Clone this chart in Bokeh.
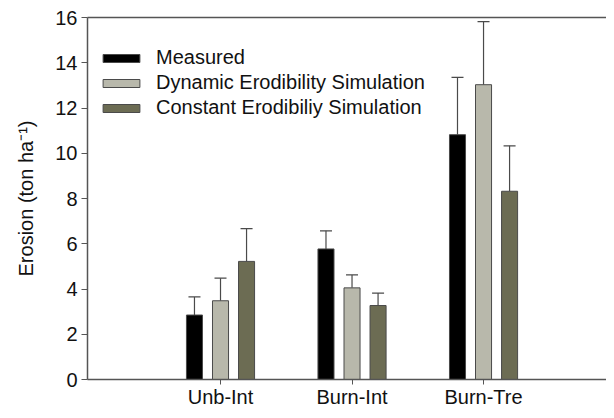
from bokeh.plotting import figure
from bokeh.models import ColumnDataSource, Whisker, TeeHead, LinearAxis, FixedTicker, Legend, LegendItem, Range1d
from bokeh.embed import file_html
from bokeh.resources import INLINE

categories = ["Unb-Int", "Burn-Int", "Burn-Tre"]
series_names = ["Measured", "Dynamic Erodibility Simulation", "Constant Erodibiliy Simulation"]
measured = [2.85, 5.77, 10.82]
measured_err = [0.80, 0.80, 2.53]
dynamic = [3.48, 4.05, 13.03]
dynamic_err = [1.00, 0.57, 2.79]
constant = [5.22, 3.27, 8.32]
constant_err = [1.45, 0.55, 2.01]
y_ticks = [0, 2, 4, 6, 8, 10, 12, 14, 16]

colors = ["#000000", "#b8b8ab", "#6c6c53"]
offsets = [-0.198, 0.0, 0.198]
font = "Liberation Sans"
txt = "#111111"

p = figure(width=606, height=410, output_backend="svg", toolbar_location=None,
           x_range=Range1d(-0.0114, 3.935), y_range=Range1d(0, 16),
           min_border_left=87, min_border_right=0, min_border_top=17, min_border_bottom=25)
p.grid.visible = False
p.outline_line_color = None
p.background_fill_color = "white"

xs = [1, 2, 3]
renderers = []
for vals, errs, c, off in zip([measured, dynamic, constant],
                              [measured_err, dynamic_err, constant_err], colors, offsets):
    src = ColumnDataSource(dict(x=[x + off for x in xs], top=vals,
                                upper=[v + e for v, e in zip(vals, errs)]))
    r = p.vbar(x="x", top="top", bottom=0, width=0.122, source=src,
               fill_color=c, line_color="#4a4a4a", line_width=1)
    renderers.append(r)
    w = Whisker(base="x", lower="top", upper="upper", source=src, dimension="height",
                line_color="#4a4a4a", line_width=1.2,
                upper_head=TeeHead(size=12, line_color="#4a4a4a", line_width=1.2),
                lower_head=None)
    p.add_layout(w)

# axes
p.xaxis.ticker = FixedTicker(ticks=xs)
p.xaxis.major_label_overrides = {x: c for x, c in zip(xs, categories)}
p.yaxis.ticker = FixedTicker(ticks=y_ticks)
for ax in [p.xaxis[0], p.yaxis[0]]:
    ax.axis_line_color = "#555555"
    ax.axis_line_width = 1.5
    ax.major_tick_line_color = "#555555"
    ax.major_tick_line_width = 1
    ax.major_tick_out = 6
    ax.major_tick_in = 0
    ax.minor_tick_line_color = None
    ax.major_label_text_font = font
    ax.major_label_text_font_size = "20px"
    ax.major_label_text_color = txt
p.xaxis.major_tick_out = 5
p.xaxis.major_label_standoff = 1
p.yaxis.major_label_standoff = 4
p.yaxis.axis_label = "Erosion (ton ha\u207b\u00b9)"
p.yaxis.axis_label_text_font = font
p.yaxis.axis_label_text_font_size = "20px"
p.yaxis.axis_label_text_font_style = "normal"
p.yaxis.axis_label_text_color = txt
p.yaxis.axis_label_standoff = 15

top_axis = LinearAxis(ticker=FixedTicker(ticks=[]), axis_line_color="#555555", axis_line_width=1.5,
                      major_tick_line_color=None, minor_tick_line_color=None)
p.add_layout(top_axis, "above")

legend = Legend(items=[LegendItem(label=n, renderers=[r]) for n, r in zip(series_names, renderers)],
                location=(11, 260), border_line_color=None, background_fill_alpha=0,
                label_text_font=font, label_text_font_size="20px", label_text_color=txt,
                glyph_width=46, glyph_height=10, label_standoff=12, spacing=2,
                padding=0, margin=0, label_height=22)
p.add_layout(legend, "center")

open("out.html", "w").write(file_html(p, INLINE))
